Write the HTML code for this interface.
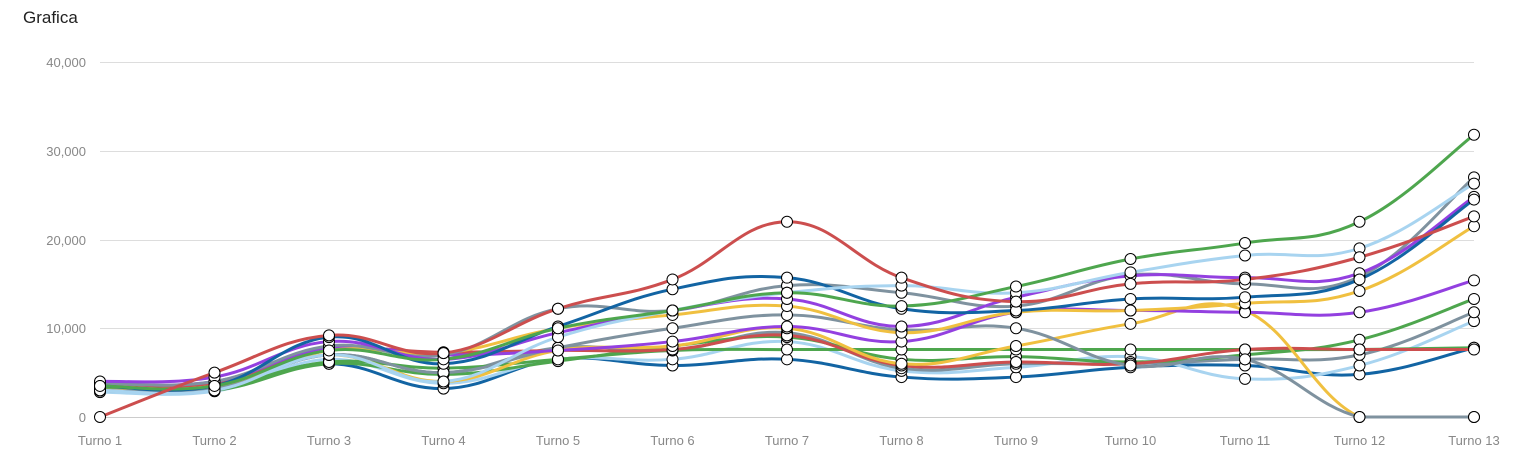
<!DOCTYPE html>
<html><head><meta charset="utf-8"><style>
html,body{margin:0;padding:0;background:#fff;width:1521px;height:465px;overflow:hidden}
svg{display:block;font-family:"Liberation Sans",sans-serif}
</style></head><body>
<svg id="c" width="1521" height="465" xmlns="http://www.w3.org/2000/svg">
<text x="23" y="23" font-size="17" fill="#222">Grafica</text>
<g stroke="#ddd" stroke-width="1">
<line x1="100" x2="1474" y1="62.5" y2="62.5"/>
<line x1="100" x2="1474" y1="151.5" y2="151.5"/>
<line x1="100" x2="1474" y1="240.5" y2="240.5"/>
<line x1="100" x2="1474" y1="328.5" y2="328.5"/>
<line x1="100" x2="1474" y1="417.5" y2="417.5" stroke="#ccc"/>
</g>
<g font-size="13" fill="#888" text-anchor="end">
<text x="86" y="67">40,000</text>
<text x="86" y="156">30,000</text>
<text x="86" y="245">20,000</text>
<text x="86" y="333">10,000</text>
<text x="86" y="422">0</text>
</g>
<g id="xl" font-size="13" fill="#888" text-anchor="middle"></g>
<g id="lines" fill="none" stroke-width="3" stroke-linecap="round"></g>
<g id="pts" fill="#fff" stroke="#000" stroke-width="1"></g>
</svg>
<script>
var S=[
["#1264a3",[3300,3300,6000,3200,6500,5800,6500,4500,4500,5600,5800,4800,7800]],
["#a8d4f0",[2800,2900,6500,3800,6500,6500,8500,5200,5600,6800,4300,5800,10800]],
["#7f929f",[3000,3200,7000,5000,7800,7500,9500,5500,6000,6000,6500,7000,11800]],
["#4ea64e",[3200,3000,6000,4800,6300,8000,9000,6500,6800,6200,7000,8700,13300]],
["#4ea64e",[3400,3300,6200,5500,6500,7500,7600,7600,7600,7600,7600,7600,7800]],
["#cc4e4e",[3600,3800,7500,7300,7500,7600,9200,5800,6200,6000,7600,7600,7600]],
["#f0c040",[3000,3500,7000,4000,7500,8000,10000,6000,8000,10500,12000,0,0]],
["#7f929f",[3000,3200,7000,5000,7800,10000,11500,9800,10000,5800,6500,0,0]],
["#9340e0",[3800,4000,7800,7000,7500,8500,10200,8500,11800,12000,11800,11800,15400]],
["#f0c040",[3500,3500,7500,7200,10000,11500,12500,9500,11800,12000,12800,14200,21500]],
["#7f929f",[3800,4000,8000,7000,12200,12000,14800,14000,12500,16000,15000,15800,27000]],
["#9340e0",[4000,4500,8500,6500,9500,12000,13300,10200,13500,15900,15700,16200,24800]],
["#1264a3",[3500,3500,9000,6000,10200,14400,15700,12200,12000,13300,13500,15500,24500]],
["#a8d4f0",[3000,3000,7000,4000,9000,12000,14000,14800,14000,16300,18200,19000,26300]],
["#4ea64e",[3500,3500,7500,6500,10000,12000,14000,12500,14700,17800,19600,22000,31800]],
["#cc4e4e",[0,5000,9200,7200,12200,15500,22000,15700,13000,15000,15500,18000,22600]]
];
var X=i=>100+i*114.5, Y=v=>417-v*0.008875;
var ns="http://www.w3.org/2000/svg";
var L=document.getElementById("lines"),P=document.getElementById("pts"),XL=document.getElementById("xl");
for(var i=0;i<13;i++){var t=document.createElementNS(ns,"text");t.setAttribute("x",X(i));t.setAttribute("y",445);t.textContent="Turno "+(i+1);XL.appendChild(t);}
S.forEach(function(s){
 var p=s[1].map((v,i)=>[X(i),Y(v)]);
 var d="M"+p[0][0]+","+p[0][1];
 for(var i=0;i<p.length-1;i++){
  var p0=p[i-1]||p[i],p1=p[i],p2=p[i+1],p3=p[i+2]||p2,k=0.2;
  var c1=[p1[0]+(p2[0]-p0[0])*k,Math.min(417,p1[1]+(p2[1]-p0[1])*k)];
  var c2=[p2[0]-(p3[0]-p1[0])*k,Math.min(417,p2[1]-(p3[1]-p1[1])*k)];
  if(p1[1]>=416.9&&p2[1]>=416.9){c1[1]=417;c2[1]=417;}
  d+=" C"+c1+" "+c2+" "+p2;
 }
 var e=document.createElementNS(ns,"path");e.setAttribute("d",d);e.setAttribute("stroke",s[0]);L.appendChild(e);
 p.forEach(function(q){var c=document.createElementNS(ns,"circle");c.setAttribute("cx",q[0]);c.setAttribute("cy",q[1]);c.setAttribute("r",5.5);P.appendChild(c);});
});
</script>
</body></html>
